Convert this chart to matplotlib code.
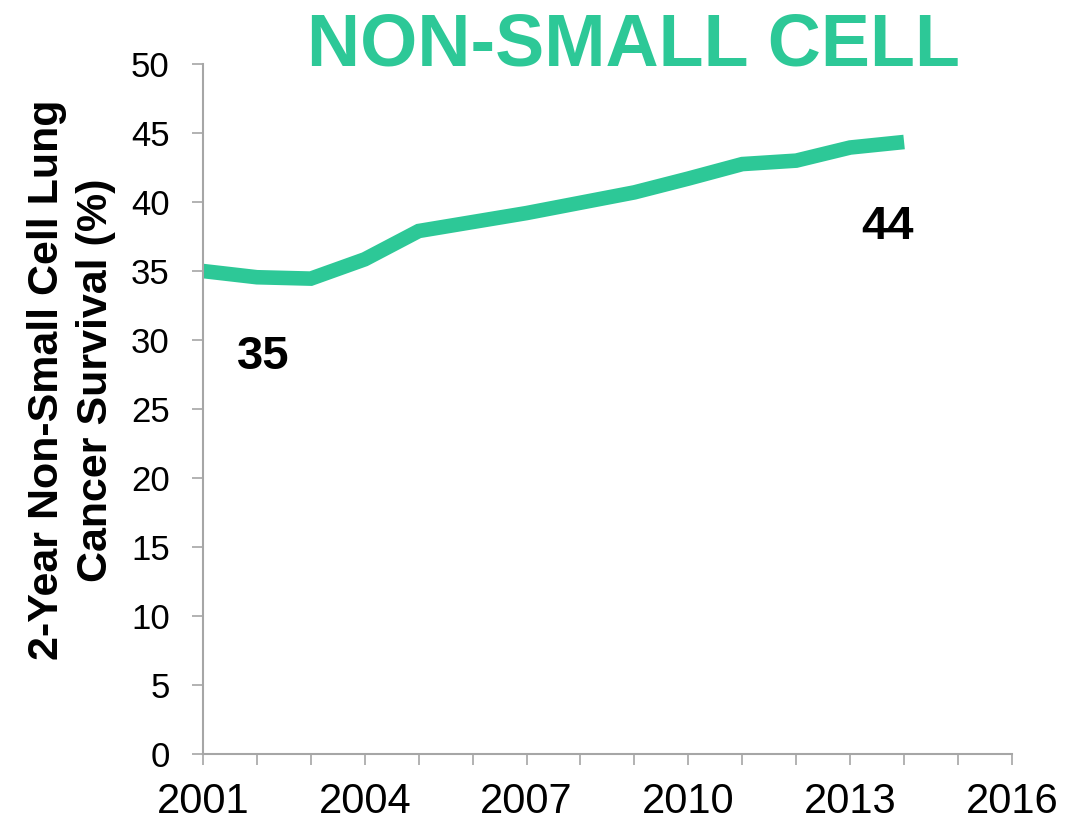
import matplotlib
matplotlib.use("Agg")
import matplotlib.pyplot as plt

years = [2001, 2002, 2003, 2004, 2005, 2006, 2007, 2008, 2009, 2010, 2011, 2012, 2013, 2014]
survival = [35.0, 34.55, 34.45, 35.85, 37.9, 38.55, 39.2, 39.95, 40.7, 41.7, 42.75, 43.0, 43.95, 44.35]

tick_years = list(range(2001, 2017))
tick_labels = [str(y) if (y - 2001) % 3 == 0 else "" for y in tick_years]
y_ticks = list(range(0, 51, 5))

green = "#2DC897"
gray = "#A6A6A6"

plt.rcParams["font.family"] = ["Liberation Sans", "DejaVu Sans"]

fig = plt.figure(figsize=(10.66, 8.24), dpi=100)
ax = fig.add_axes([0.1904, 0.0849, 0.7589, 0.8374])

ax.plot(years, survival, color=green, linewidth=10.5, solid_capstyle="butt",
        solid_joinstyle="miter", clip_on=False)

ax.set_xlim(2001, 2016)
ax.set_ylim(0, 50)
ax.set_xticks(tick_years)
ax.set_xticklabels(tick_labels)
ax.set_yticks(y_ticks)

for side in ["top", "right"]:
    ax.spines[side].set_visible(False)
for side in ["left", "bottom"]:
    ax.spines[side].set_color(gray)
    ax.spines[side].set_linewidth(1.5)

ax.tick_params(axis="x", length=8, width=1.2, color=gray, labelsize=30, pad=12)
ax.tick_params(axis="y", length=8, width=1.2, color=gray, labelsize=25, pad=16)

ax.set_ylabel("2-Year Non-Small Cell Lung\nCancer Survival (%)", fontsize=31,
              fontweight="bold", linespacing=1.3)
ax.yaxis.set_label_coords(-0.107, 0.542)

# end-point labels
ax.text(years[0] + 1.11, 28.8, "35", fontsize=34, fontweight="bold",
        ha="center", va="center")
ax.text(years[-1] - 0.31, 38.2, "44", fontsize=34, fontweight="bold",
        ha="center", va="center")

fig.text(0.594, 0.921, "NON-SMALL CELL", color=green, fontsize=53,
         fontweight="bold", ha="center", va="baseline")

fig.savefig("out.png", dpi=100)
